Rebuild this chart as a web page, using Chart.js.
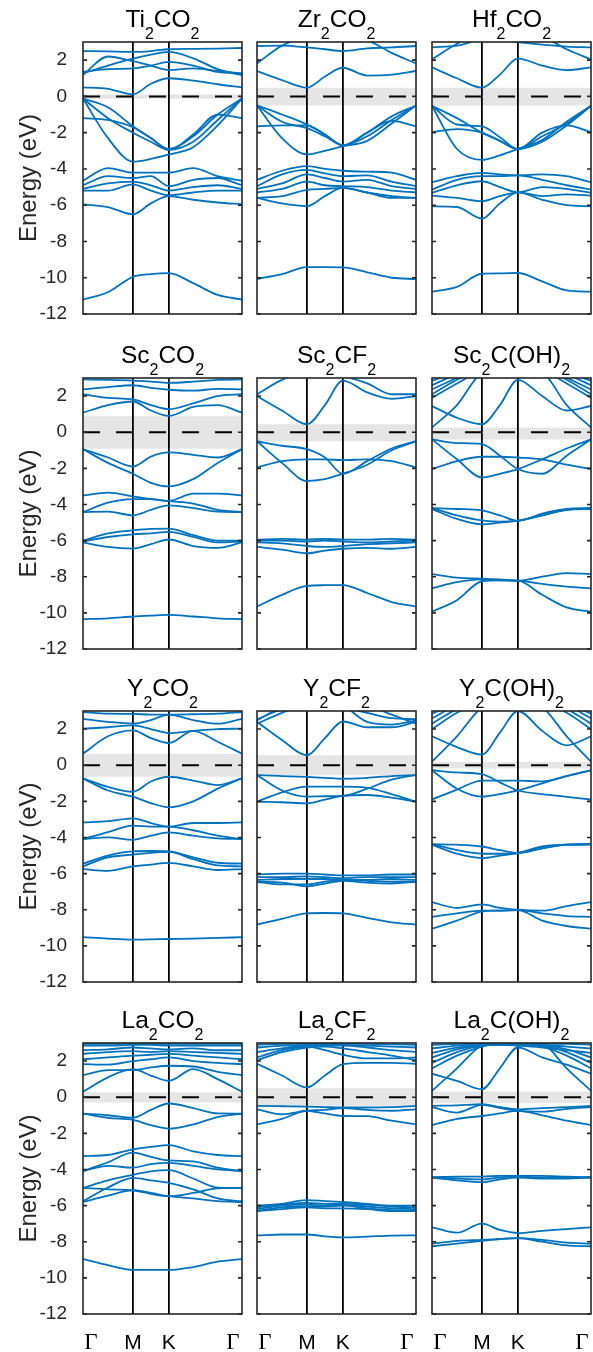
<!DOCTYPE html>
<html>
<head>
<meta charset="utf-8">
<title>MXene band structures</title>
<script src="https://cdn.jsdelivr.net/npm/chart.js@4.4.0/dist/chart.umd.min.js"></script>
<style>
  body { margin: 0; background: #fff; width: 593px; height: 1352px; position: relative; overflow: hidden; }
  canvas { position: absolute; }
</style>
</head>
<body>
<script>
// k-path sample positions (Γ-M-K-Γ), high-symmetry ticks and labels
const kx = [0, 0.157, 0.314, 0.427, 0.54, 0.693, 0.847, 1];
const kTicks = [0, 0.314, 0.54, 1];
const kLabels = ['Γ', 'M', 'K', 'Γ'];
const energyTicks = [-12, -10, -8, -6, -4, -2, 0, 2];

// panel titles, row by row (digits are drawn as subscripts)
const titles = ['Ti2CO2', 'Zr2CO2', 'Hf2CO2', 'Sc2CO2', 'Sc2CF2', 'Sc2C(OH)2',
                'Y2CO2', 'Y2CF2', 'Y2C(OH)2', 'La2CO2', 'La2CF2', 'La2C(OH)2'];

// shaded gap [top, bottom] in eV
const gaps = [[0.11, -0.13], [0.48, -0.5], [0.48, -0.52],
              [0.88, -0.92], [0.44, -0.5], [0.26, -0.4],
              [0.64, -0.64], [0.55, -0.55], [0.18, -0.18],
              [0.28, -0.3], [0.5, -0.48], [0.31, -0.33]];

// bands (eV at each kx)
const ti2co2 = [
  [2.5, 2.48, 2.45, 2.5, 2.6, 2.62, 2.64, 2.67],
  [1.27, 1.7, 2.08, 2.3, 2.45, 2.1, 1.5, 1.18],
  [1.18, 2.2, 1.94, 1.7, 1.45, 1.55, 1.4, 1.27],
  [1.35, 1.5, 1.54, 1.7, 1.9, 1.7, 1.35, 1.25],
  [0.5, 0.42, 0.11, 0.7, 1.0, 0.87, 0.67, 0.5],
  [-0.12, -0.6, -1.65, -2.3, -2.9, -2.2, -1.0, -0.12],
  [-0.12, -1.2, -2.0, -2.5, -2.95, -2.5, -1.3, -0.12],
  [-0.12, -2.3, -3.6, -3.45, -3.2, -2.8, -1.6, -0.12],
  [-1.2, -1.3, -1.7, -2.3, -2.95, -2.1, -1.0, -1.2],
  [-4.65, -3.95, -4.2, -4.2, -4.2, -3.95, -4.4, -4.65],
  [-4.9, -4.4, -4.5, -4.4, -4.95, -4.6, -4.5, -4.9],
  [-5.1, -4.8, -4.7, -4.9, -5.2, -5.0, -4.9, -5.1],
  [-5.2, -5.2, -4.85, -5.2, -5.45, -5.3, -5.2, -5.2],
  [-5.95, -6.1, -6.5, -5.9, -5.5, -5.7, -5.85, -5.95],
  [-11.2, -10.8, -9.95, -9.8, -9.75, -10.3, -10.95, -11.2]
];
const zr2co2 = [
  [2.78, 2.8, 2.7, 2.6, 2.5, 2.65, 2.7, 2.78],
  [1.82, 2.8, 3.3, 3.5, 3.4, 3.1, 2.4, 1.82],
  [1.4, 0.9, 0.48, 1.1, 1.58, 1.15, 1.2, 1.4],
  [-0.5, -1.0, -1.55, -2.1, -2.7, -2.0, -1.1, -0.5],
  [-0.5, -1.4, -1.75, -2.2, -2.7, -2.2, -1.3, -0.5],
  [-0.5, -2.3, -3.2, -3.0, -2.75, -2.45, -1.5, -0.5],
  [-1.65, -1.6, -1.6, -2.1, -2.7, -2.0, -1.35, -1.65],
  [-4.6, -4.1, -3.85, -4.0, -4.1, -4.15, -4.2, -4.6],
  [-4.95, -4.3, -4.05, -4.25, -4.4, -4.35, -4.7, -4.95],
  [-5.1, -4.8, -4.3, -4.5, -4.7, -4.6, -4.95, -5.1],
  [-5.3, -5.1, -4.7, -4.9, -4.95, -5.0, -5.2, -5.3],
  [-5.6, -5.5, -5.15, -5.1, -5.05, -5.3, -5.5, -5.6],
  [-5.6, -5.9, -6.05, -5.5, -5.05, -5.3, -5.6, -5.6],
  [-10.07, -9.8, -9.42, -9.42, -9.43, -9.7, -10.0, -10.07]
];
const hf2co2 = [
  [2.7, 2.8, 3.1, 3.1, 3.0, 2.85, 2.75, 2.7],
  [2.04, 2.9, 3.5, 3.5, 3.5, 3.3, 2.6, 2.04],
  [1.6, 1.0, 0.48, 1.2, 2.08, 1.7, 1.45, 1.6],
  [-0.52, -1.55, -1.65, -2.25, -2.9, -2.2, -1.5, -0.52],
  [-0.52, -1.2, -2.0, -2.45, -2.9, -2.5, -1.6, -0.52],
  [-0.52, -2.9, -3.5, -3.25, -2.9, -2.4, -1.4, -0.52],
  [-1.97, -1.8, -2.0, -2.45, -2.9, -2.0, -1.6, -1.97],
  [-4.73, -4.4, -4.22, -4.3, -4.35, -4.3, -4.4, -4.73],
  [-5.14, -4.6, -4.4, -4.4, -4.35, -4.6, -4.9, -5.14],
  [-5.32, -4.9, -4.68, -5.0, -5.29, -5.0, -5.1, -5.32],
  [-5.47, -5.6, -5.78, -5.5, -5.29, -5.5, -5.4, -5.47],
  [-6.06, -6.1, -6.74, -5.9, -5.29, -5.7, -6.0, -6.06],
  [-10.77, -10.5, -9.78, -9.76, -9.74, -10.2, -10.7, -10.77]
];
const sc2co2 = [
  [2.92, 2.9, 2.86, 2.8, 2.73, 2.8, 2.9, 2.92],
  [2.37, 2.5, 2.6, 2.45, 2.35, 2.3, 2.4, 2.37],
  [2.1, 1.9, 1.82, 1.5, 1.27, 1.6, 2.0, 2.1],
  [1.08, 1.5, 1.7, 1.2, 0.9, 1.4, 1.5, 1.08],
  [-0.94, -1.4, -1.9, -1.35, -1.12, -1.25, -1.4, -0.94],
  [-0.94, -1.7, -2.3, -2.8, -3.0, -2.6, -1.7, -0.94],
  [-3.5, -3.35, -3.55, -3.7, -3.8, -3.4, -3.4, -3.5],
  [-4.42, -3.9, -3.7, -3.7, -3.82, -3.95, -4.3, -4.42],
  [-4.42, -4.4, -4.6, -4.3, -4.05, -4.2, -4.4, -4.42],
  [-6.0, -5.6, -5.43, -5.35, -5.34, -5.7, -6.0, -6.0],
  [-6.05, -5.8, -5.65, -5.6, -5.52, -5.8, -6.1, -6.05],
  [-6.1, -6.35, -6.44, -6.2, -5.94, -6.3, -6.4, -6.1],
  [-10.35, -10.3, -10.2, -10.15, -10.11, -10.2, -10.3, -10.35]
];
const sc2cf2 = [
  [2.1, 2.9, 3.3, 3.2, 3.1, 2.7, 2.1, 2.1],
  [2.0, 1.2, 0.44, 1.5, 2.85, 2.2, 1.85, 2.0],
  [-0.5, -0.75, -0.94, -1.4, -2.3, -1.6, -0.9, -0.5],
  [-0.5, -1.7, -2.7, -2.6, -2.3, -1.8, -1.0, -0.5],
  [-1.95, -1.6, -1.5, -1.5, -1.55, -1.5, -1.6, -1.95],
  [-5.95, -5.9, -5.95, -5.9, -5.95, -5.95, -5.9, -5.95],
  [-6.0, -6.0, -6.05, -6.0, -6.05, -6.1, -6.05, -6.0],
  [-6.1, -6.15, -6.3, -6.35, -6.3, -6.2, -6.15, -6.1],
  [-6.35, -6.5, -6.7, -6.55, -6.45, -6.4, -6.45, -6.35],
  [-9.65, -9.0, -8.51, -8.47, -8.46, -8.9, -9.4, -9.65]
];
const sc2coh2 = [
  [1.45, 0.8, 0.44, 1.5, 2.9, 2.0, 1.2, 1.45],
  [0.26, 1.5, 3.3, 3.5, 3.5, 3.3, 1.5, 0.26],
  [1.9, 2.7, 3.4, 3.5, 3.5, 3.4, 2.7, 1.9],
  [2.1, 2.9, 3.5, 3.5, 3.5, 3.5, 2.9, 2.1],
  [2.37, 3.0, 3.5, 3.5, 3.5, 3.5, 3.0, 2.37],
  [2.6, 3.2, 3.5, 3.5, 3.5, 3.5, 3.2, 2.6],
  [2.85, 3.3, 3.5, 3.5, 3.5, 3.5, 3.3, 2.85],
  [-0.4, -0.6, -0.66, -1.3, -2.04, -2.3, -1.3, -0.4],
  [-0.4, -1.5, -2.5, -2.3, -2.04, -1.5, -0.9, -0.4],
  [-2.04, -1.6, -1.36, -1.36, -1.4, -1.5, -1.8, -2.04],
  [-4.2, -4.25, -4.33, -4.6, -4.9, -4.5, -4.25, -4.2],
  [-4.2, -4.6, -4.88, -4.95, -4.9, -4.6, -4.3, -4.2],
  [-4.25, -4.8, -5.1, -5.0, -4.9, -4.6, -4.3, -4.25],
  [-7.85, -8.05, -8.1, -8.15, -8.22, -8.0, -7.8, -7.85],
  [-8.64, -8.3, -8.15, -8.2, -8.22, -8.4, -8.55, -8.64],
  [-9.93, -9.3, -8.25, -8.2, -8.22, -9.0, -9.7, -9.93]
];
const y2co2 = [
  [2.94, 2.85, 2.84, 2.8, 2.8, 2.82, 2.85, 2.94],
  [2.57, 2.4, 2.3, 2.5, 2.8, 2.5, 2.3, 2.57],
  [2.02, 2.1, 2.2, 2.0, 1.78, 1.9, 2.0, 2.02],
  [0.64, 1.6, 1.93, 1.5, 1.23, 1.9, 1.3, 0.64],
  [-0.73, -1.2, -1.47, -0.9, -0.64, -0.85, -1.1, -0.73],
  [-0.73, -1.4, -1.74, -2.1, -2.33, -2.0, -1.3, -0.73],
  [-3.17, -3.1, -2.94, -3.2, -3.4, -3.2, -3.2, -3.17],
  [-4.09, -3.7, -3.35, -3.4, -3.4, -3.6, -3.9, -4.09],
  [-4.09, -4.0, -4.13, -3.9, -3.72, -3.9, -4.05, -4.09],
  [-5.45, -5.0, -4.77, -4.75, -4.77, -5.1, -5.4, -5.45],
  [-5.6, -5.1, -4.95, -4.85, -4.8, -5.2, -5.55, -5.6],
  [-5.75, -5.85, -5.6, -5.5, -5.41, -5.6, -5.8, -5.75],
  [-9.52, -9.6, -9.65, -9.64, -9.62, -9.6, -9.56, -9.52]
];
const y2cf2 = [
  [2.55, 3.1, 3.5, 3.4, 3.2, 2.9, 2.6, 2.55],
  [2.4, 1.4, 0.55, 1.5, 2.42, 2.1, 2.1, 2.4],
  [2.48, 3.2, 3.5, 3.5, 3.3, 2.4, 2.25, 2.48],
  [2.3, 2.9, 3.4, 3.5, 3.5, 3.3, 2.8, 2.3],
  [-0.55, -0.6, -0.65, -0.7, -0.75, -0.7, -0.6, -0.55],
  [-0.55, -1.4, -1.74, -1.72, -1.7, -1.3, -0.8, -0.55],
  [-2.02, -1.5, -1.19, -1.19, -1.19, -1.25, -1.6, -2.02],
  [-2.02, -2.05, -2.11, -1.9, -1.7, -1.65, -1.8, -2.02],
  [-6.05, -6.0, -6.0, -6.05, -6.1, -6.1, -6.05, -6.05],
  [-6.2, -6.2, -6.15, -6.2, -6.25, -6.2, -6.2, -6.2],
  [-6.35, -6.3, -6.3, -6.3, -6.35, -6.35, -6.3, -6.35],
  [-6.45, -6.6, -6.6, -6.45, -6.35, -6.4, -6.45, -6.45],
  [-6.45, -6.5, -6.7, -6.55, -6.4, -6.5, -6.55, -6.45],
  [-8.82, -8.5, -8.2, -8.18, -8.2, -8.45, -8.7, -8.82]
];
const y2coh2 = [
  [0.2, 1.6, 3.2, 3.5, 3.5, 3.2, 1.6, 0.2],
  [1.6, 1.0, 0.59, 1.8, 3.0, 1.9, 1.1, 1.6],
  [2.0, 2.9, 3.5, 3.5, 3.5, 3.5, 2.9, 2.0],
  [2.3, 3.1, 3.5, 3.5, 3.5, 3.5, 3.1, 2.3],
  [2.6, 3.3, 3.5, 3.5, 3.5, 3.5, 3.3, 2.6],
  [2.85, 3.4, 3.5, 3.5, 3.5, 3.5, 3.4, 2.85],
  [-0.28, -0.4, -0.5, -0.95, -1.4, -1.6, -1.75, -1.9],
  [-1.9, -1.35, -0.85, -0.85, -0.85, -0.9, -0.6, -0.28],
  [-0.28, -1.3, -1.74, -1.6, -1.4, -1.0, -0.6, -0.28],
  [-4.37, -4.4, -4.5, -4.7, -4.85, -4.6, -4.4, -4.37],
  [-4.37, -4.7, -4.9, -4.9, -4.86, -4.6, -4.4, -4.37],
  [-4.4, -4.9, -5.14, -5.0, -4.86, -4.5, -4.4, -4.4],
  [-7.58, -7.9, -7.7, -7.9, -8.0, -8.05, -7.8, -7.58],
  [-8.39, -8.2, -8.05, -8.05, -8.02, -8.2, -8.35, -8.39],
  [-9.05, -8.6, -8.1, -8.05, -8.02, -8.6, -8.9, -9.05]
];
const la2co2 = [
  [2.95, 2.95, 2.95, 2.95, 2.95, 2.95, 2.95, 2.95],
  [2.85, 2.85, 2.9, 2.9, 2.85, 2.85, 2.85, 2.85],
  [2.6, 2.65, 2.75, 2.7, 2.65, 2.7, 2.6, 2.6],
  [2.4, 2.5, 2.55, 2.5, 2.55, 2.5, 2.45, 2.4],
  [2.1, 2.2, 2.3, 2.35, 2.4, 2.3, 2.2, 2.1],
  [1.83, 1.8, 2.0, 2.1, 2.2, 2.0, 1.9, 1.83],
  [1.22, 1.5, 1.5, 1.65, 1.74, 1.7, 1.4, 1.22],
  [0.3, 1.1, 1.55, 1.2, 0.91, 1.55, 1.0, 0.3],
  [-0.91, -1.0, -1.13, -0.7, -0.35, -0.6, -0.9, -0.91],
  [-0.91, -1.15, -1.26, -1.55, -1.74, -1.5, -1.1, -0.91],
  [-3.26, -3.2, -2.89, -2.75, -2.65, -3.0, -3.2, -3.26],
  [-4.09, -3.6, -3.07, -3.3, -3.5, -3.55, -3.9, -4.09],
  [-4.09, -3.8, -3.9, -3.7, -3.63, -3.8, -4.0, -4.09],
  [-5.02, -4.6, -4.3, -4.1, -4.04, -4.5, -5.0, -5.02],
  [-5.76, -5.0, -4.46, -4.6, -4.74, -5.1, -5.6, -5.76],
  [-5.02, -5.1, -5.15, -5.35, -5.48, -5.3, -5.05, -5.02],
  [-5.8, -5.45, -5.15, -5.3, -5.48, -5.6, -5.75, -5.8],
  [-8.96, -9.3, -9.56, -9.56, -9.56, -9.4, -9.1, -8.96]
];
const la2cf2 = [
  [2.9, 2.95, 2.95, 2.95, 2.95, 2.95, 2.92, 2.9],
  [2.75, 2.85, 2.9, 2.9, 2.9, 2.85, 2.8, 2.75],
  [2.5, 2.7, 2.85, 2.85, 2.85, 2.75, 2.6, 2.5],
  [2.05, 2.5, 2.75, 2.8, 2.7, 2.5, 2.3, 2.05],
  [2.2, 2.6, 2.8, 2.6, 2.35, 2.15, 2.15, 2.2],
  [1.85, 1.2, 0.54, 1.2, 1.83, 1.9, 1.9, 1.85],
  [-0.48, -0.5, -0.52, -0.55, -0.57, -0.57, -0.55, -0.48],
  [-1.5, -1.2, -0.75, -0.9, -1.04, -1.05, -1.3, -1.5],
  [-0.67, -0.95, -0.75, -0.7, -0.6, -0.7, -0.75, -0.67],
  [-6.0, -5.9, -5.7, -5.75, -5.8, -5.9, -6.0, -6.0],
  [-6.1, -5.95, -5.85, -5.9, -5.9, -5.95, -6.05, -6.1],
  [-6.2, -6.0, -5.95, -6.0, -5.95, -6.05, -6.15, -6.2],
  [-6.3, -6.1, -6.05, -6.05, -6.0, -6.15, -6.25, -6.3],
  [-6.3, -6.2, -6.1, -6.15, -6.15, -6.2, -6.3, -6.3],
  [-7.65, -7.6, -7.6, -7.7, -7.76, -7.72, -7.66, -7.65]
];
const la2coh2 = [
  [1.3, 0.9, 0.44, 1.6, 2.75, 2.2, 1.8, 1.3],
  [0.35, 1.6, 2.9, 3.2, 3.2, 3.0, 1.6, 0.35],
  [1.6, 2.3, 2.8, 3.0, 3.0, 2.8, 2.3, 1.6],
  [1.9, 2.5, 2.85, 2.9, 2.9, 2.85, 2.5, 1.9],
  [2.2, 2.65, 2.9, 2.95, 2.95, 2.9, 2.65, 2.2],
  [2.45, 2.75, 2.9, 2.9, 2.85, 2.75, 2.6, 2.45],
  [2.7, 2.85, 2.95, 2.95, 2.95, 2.9, 2.8, 2.7],
  [2.9, 2.95, 3.0, 3.0, 3.0, 2.95, 2.95, 2.9],
  [-0.48, -0.45, -0.39, -0.55, -0.67, -0.6, -0.55, -0.48],
  [-0.55, -0.85, -0.42, -0.6, -0.76, -0.8, -0.65, -0.55],
  [-1.55, -1.2, -1.04, -0.9, -0.76, -1.0, -1.3, -1.55],
  [-4.43, -4.4, -4.4, -4.35, -4.35, -4.35, -4.4, -4.43],
  [-4.43, -4.5, -4.55, -4.45, -4.4, -4.45, -4.45, -4.43],
  [-4.45, -4.6, -4.7, -4.55, -4.45, -4.5, -4.5, -4.45],
  [-7.2, -7.5, -7.0, -7.35, -7.52, -7.4, -7.3, -7.2],
  [-8.1, -7.95, -7.9, -7.85, -7.8, -7.9, -8.05, -8.1],
  [-8.25, -8.1, -7.95, -7.85, -7.8, -8.0, -8.2, -8.25]
];

const allBands = [ti2co2, zr2co2, hf2co2, sc2co2, sc2cf2, sc2coh2,
                  y2co2, y2cf2, y2coh2, la2co2, la2cf2, la2coh2];

// plot-area geometry of the figure grid
const plotLeft = [83, 257, 432];
const plotRight = [242, 416, 591];
const plotTop = [42, 378, 711, 1043];
const plotBottom = [314, 649, 982, 1314];
// the Γ labels sit a little inside the box edges in the original
const kLabelShift = [8, 0, 0, -9];

const SANS = '"Liberation Sans", Arial, Helvetica, sans-serif';
const SERIF = '"Liberation Serif", "Times New Roman", serif';
const BLUE = '#0072BD';

// draws the box, inner tick marks, the subscripted title and the k-point labels
const framePlugin = {
  id: 'frame',
  afterDraw(chart, args, opts) {
    const { ctx, chartArea: a, scales: { x, y } } = chart;
    ctx.save();
    ctx.strokeStyle = '#262626';
    ctx.lineWidth = 1.6;
    ctx.beginPath();
    energyTicks.forEach(v => {
      const py = y.getPixelForValue(v);
      ctx.moveTo(a.left, py); ctx.lineTo(a.left + 4, py);
      ctx.moveTo(a.right, py); ctx.lineTo(a.right - 4, py);
    });
    ctx.stroke();
    ctx.strokeRect(a.left, a.top, a.right - a.left, a.bottom - a.top);

    // title with subscripts
    const parts = opts.title.match(/\d+|\D+/g);
    const fontFor = p => /\d/.test(p) ? '16px ' + SANS : '24.5px ' + SANS;
    let w = 0;
    parts.forEach(p => { ctx.font = fontFor(p); w += ctx.measureText(p).width; });
    let tx = (a.left + a.right) / 2 - w / 2;
    const base = a.top - 15;
    ctx.fillStyle = '#000';
    ctx.textAlign = 'left';
    ctx.textBaseline = 'alphabetic';
    parts.forEach(p => {
      ctx.font = fontFor(p);
      ctx.fillText(p, tx, /\d/.test(p) ? base + 12 : base);
      tx += ctx.measureText(p).width;
    });

    // k-point labels under the bottom row
    if (opts.kLabels) {
      ctx.textAlign = 'center';
      kTicks.forEach((v, i) => {
        ctx.font = kLabels[i] === 'Γ' ? '23px ' + SERIF : '21px ' + SANS;
        ctx.fillText(kLabels[i], x.getPixelForValue(v) + kLabelShift[i], a.bottom + 35);
      });
    }
    ctx.restore();
  }
};

function makePanel(idx) {
  const row = Math.floor(idx / 3), col = idx % 3;
  const isBottom = row === 3;
  const ML = col === 0 ? 83 : 12;
  const MR = 12;
  const MT = 42;
  const MB = isBottom ? 38 : 20;
  const pw = plotRight[col] - plotLeft[col];
  const ph = plotBottom[row] - plotTop[row];

  const canvas = document.createElement('canvas');
  canvas.width = ML + pw + MR;
  canvas.height = MT + ph + MB;
  canvas.style.left = (plotLeft[col] - ML) + 'px';
  canvas.style.top = (plotTop[row] - MT) + 'px';
  canvas.style.width = canvas.width + 'px';
  canvas.style.height = canvas.height + 'px';
  document.body.appendChild(canvas);

  const gap = gaps[idx];
  const datasets = [];
  // Fermi level (on top)
  datasets.push({
    data: [{ x: 0, y: 0 }, { x: 1, y: 0 }],
    borderColor: '#000', borderWidth: 2, borderDash: [17, 16],
    pointRadius: 0, fill: false, order: 0
  });
  allBands[idx].forEach(b => {
    datasets.push({
      data: kx.map((x, i) => ({ x, y: b[i] })),
      borderColor: BLUE, borderWidth: 1.8, pointRadius: 0,
      cubicInterpolationMode: 'monotone', fill: false, order: 1
    });
  });
  // shaded gap
  datasets.push({
    data: [{ x: 0, y: gap[0] }, { x: 1, y: gap[0] }],
    borderColor: 'rgba(0,0,0,0)', borderWidth: 0, pointRadius: 0,
    fill: '+1', backgroundColor: 'rgba(0,0,0,0.1)', order: 2
  });
  datasets.push({
    data: [{ x: 0, y: gap[1] }, { x: 1, y: gap[1] }],
    borderColor: 'rgba(0,0,0,0)', borderWidth: 0, pointRadius: 0,
    fill: false, order: 2
  });

  new Chart(canvas, {
    type: 'line',
    data: { datasets },
    options: {
      responsive: false,
      animation: false,
      devicePixelRatio: 1,
      layout: { padding: { top: MT, right: MR, left: 0, bottom: 0 } },
      plugins: {
        legend: { display: false },
        tooltip: { enabled: false },
        frame: { title: titles[idx], kLabels: isBottom }
      },
      scales: {
        x: {
          type: 'linear', min: 0, max: 1,
          afterBuildTicks: s => { s.ticks = kTicks.map(v => ({ value: v })); },
          afterFit: s => { s.height = MB; },
          border: { display: false },
          grid: {
            color: c => (c.index === 1 || c.index === 2) ? '#000' : 'rgba(0,0,0,0)',
            lineWidth: 1.8, drawTicks: false
          },
          ticks: { display: false }
        },
        y: {
          min: -12, max: 3,
          afterBuildTicks: s => { s.ticks = energyTicks.map(v => ({ value: v })); },
          afterFit: s => { s.width = ML; },
          border: { display: false },
          grid: { display: false },
          ticks: { display: col === 0, padding: 8, color: '#262626', font: { family: SANS, size: 19 } },
          title: {
            display: col === 0, text: 'Energy (eV)', color: '#262626',
            font: { family: SANS, size: 24 }, padding: { top: 15, bottom: 0 }
          }
        }
      }
    },
    plugins: [framePlugin]
  });
}

for (let i = 0; i < 12; i++) makePanel(i);
</script>
</body>
</html>
